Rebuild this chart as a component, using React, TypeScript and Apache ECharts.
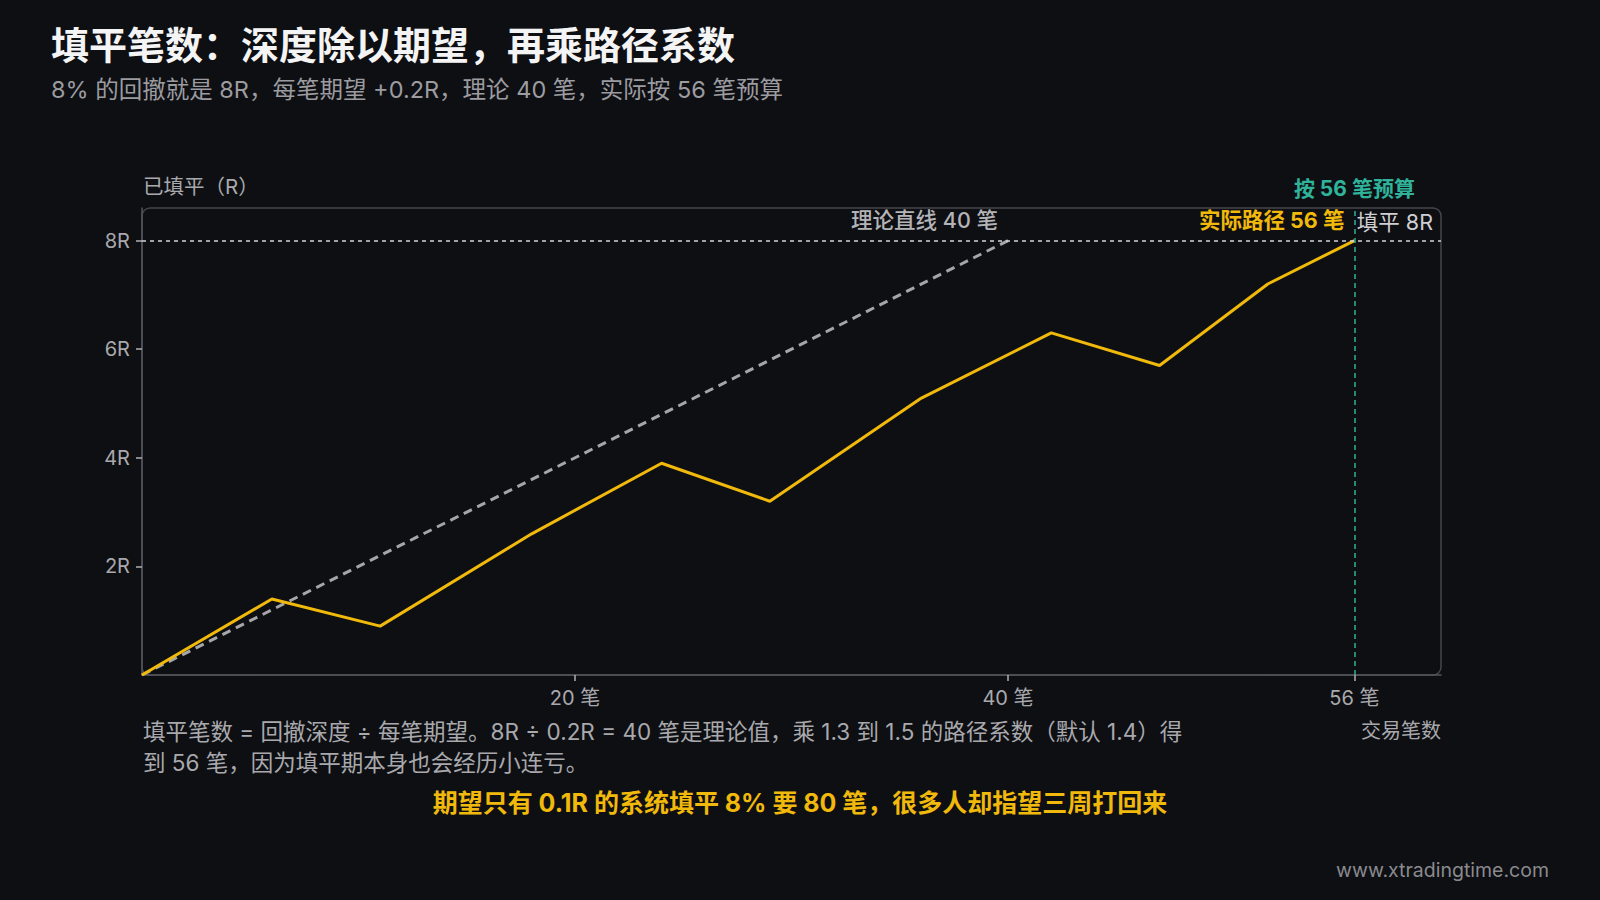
import React, { useEffect, useRef } from "react";
import * as echarts from "echarts";

// ---- data ----
const TRADES = [0, 6, 11, 18, 24, 29, 36, 42, 47, 52, 56];
const FILLED = [0, 1.4, 0.9, 2.6, 3.9, 3.2, 5.1, 6.3, 5.7, 7.2, 8];
const THEORY_TRADES = [0, 40];
const THEORY_FILLED = [0, 8];
const X_TICKS = [20, 40, 56];
const Y_TICKS = [2, 4, 6, 8];
const TARGET_R = 8;
const BUDGET_TRADES = 56;
const X_MAX = 60;
const Y_MAX = 8.6;

const TITLE = "填平笔数：深度除以期望，再乘路径系数";
const SUBTITLE = "8% 的回撤就是 8R，每笔期望 +0.2R，理论 40 笔，实际按 56 笔预算";
const Y_NAME = "已填平（R）";
const X_NAME = "交易笔数";
const NOTE_LINES = [
  "填平笔数 = 回撤深度 ÷ 每笔期望。8R ÷ 0.2R = 40 笔是理论值，乘 1.3 到 1.5 的路径系数（默认 1.4）得",
  "到 56 笔，因为填平期本身也会经历小连亏。",
];
const HIGHLIGHT = "期望只有 0.1R 的系统填平 8% 要 80 笔，很多人却指望三周打回来";
const WATERMARK = "www.xtradingtime.com";
const LABEL_ACTUAL = "实际路径 56 笔";
const LABEL_THEORY = "理论直线 40 笔";
const LABEL_TARGET = "填平 8R";
const LABEL_BUDGET = "按 56 笔预算";

const FONT = 'Inter, "Noto Sans CJK SC", "Noto Sans", sans-serif';
const BG = "#0e0f13";
const YELLOW = "#f0b90b";
const TEAL = "#2fb39b";
const AXIS_TEXT = "#a9a9ad";

const GRID = { left: 142, top: 208, width: 1299, height: 467 };

export default function App() {
  const ref = useRef<HTMLDivElement>(null);

  useEffect(() => {
    document.body.style.margin = "0";
    document.body.style.background = BG;
    const chart = echarts.init(ref.current!, null, { renderer: "svg" });

    const lastIdx = TRADES.length - 1;
    const actualData = TRADES.map((t, i) =>
      i === lastIdx
        ? {
            value: [t, FILLED[i]],
            label: {
              show: true,
              position: "left",
              distance: 10,
              offset: [0, -21],
              formatter: LABEL_ACTUAL,
              color: YELLOW,
              fontWeight: "bold",
              fontSize: 21.5,
              fontFamily: FONT,
            },
          }
        : { value: [t, FILLED[i]] }
    );
    const theoryLast = THEORY_TRADES.length - 1;
    const theoryData = THEORY_TRADES.map((t, i) =>
      i === theoryLast
        ? {
            value: [t, THEORY_FILLED[i]],
            label: {
              show: true,
              position: "left",
              distance: 10,
              offset: [0, -21],
              formatter: LABEL_THEORY,
              color: "#b4b4b8",
              fontWeight: 500,
              fontSize: 21.5,
              fontFamily: FONT,
            },
          }
        : { value: [t, THEORY_FILLED[i]] }
    );

    const x0 = GRID.left;
    const y0 = GRID.top;
    const x1 = GRID.left + GRID.width;
    const y1 = GRID.top + GRID.height;

    chart.setOption({
      animation: false,
      backgroundColor: BG,
      textStyle: { fontFamily: FONT },
      grid: { ...GRID, containLabel: false },
      xAxis: {
        type: "value",
        min: 0,
        max: X_MAX,
        splitLine: { show: false },
        axisLine: { show: true, lineStyle: { color: "#55565c", width: 1.5 } },
        axisTick: {
          show: true,
          customValues: X_TICKS,
          length: 6,
          lineStyle: { color: "#b0b0b4", width: 1.5 },
        },
        axisLabel: {
          customValues: X_TICKS,
          formatter: (v: number) => `${v} 笔`,
          color: AXIS_TEXT,
          fontSize: 20,
          margin: 13,
          fontFamily: FONT,
        },
      },
      yAxis: {
        type: "value",
        min: 0,
        max: Y_MAX,
        splitLine: { show: false },
        axisLine: { show: true, lineStyle: { color: "#55565c", width: 1.5 } },
        axisTick: {
          show: true,
          customValues: Y_TICKS,
          length: 6,
          lineStyle: { color: "#b0b0b4", width: 1.5 },
        },
        axisLabel: {
          customValues: Y_TICKS,
          formatter: (v: number) => `${v}R`,
          color: AXIS_TEXT,
          fontSize: 20,
          margin: 12,
          fontFamily: FONT,
        },
      },
      series: [
        {
          type: "line",
          name: "theory",
          data: theoryData,
          symbol: "circle",
          symbolSize: 0,
          showSymbol: true,
          lineStyle: { color: "#a6a6aa", width: 3, type: [9, 6] },
          itemStyle: { color: "#a6a6aa" },
          z: 3,
        },
        {
          type: "line",
          name: "actual",
          data: actualData,
          symbol: "circle",
          symbolSize: 0,
          showSymbol: true,
          lineStyle: { color: YELLOW, width: 3 },
          itemStyle: { color: YELLOW },
          z: 4,
          markLine: {
            silent: true,
            symbol: "none",
            animation: false,
            data: [
              {
                yAxis: TARGET_R,
                lineStyle: { type: [4, 4], color: "#d4d4d8", width: 1.5 },
                label: {
                  show: true,
                  position: "insideEndTop",
                  formatter: LABEL_TARGET,
                  color: "#cfcfd3",
                  fontSize: 21.5,
                  distance: 8,
                  fontFamily: FONT,
                },
              },
              {
                xAxis: BUDGET_TRADES,
                lineStyle: { type: [5, 4], color: TEAL, width: 1.5 },
                label: {
                  show: true,
                  position: "end",
                  formatter: LABEL_BUDGET,
                  color: TEAL,
                  fontWeight: "bold",
                  fontSize: 21,
                  distance: 9,
                  fontFamily: FONT,
                },
              },
            ],
          },
        },
      ],
      graphic: [
        {
          type: "rect",
          silent: true,
          z: -1,
          shape: { x: x0, y: y0, width: x1 - x0, height: y1 - y0, r: 8 },
          style: { fill: "none", stroke: "#45464c", lineWidth: 1.5 },
        },
        {
          type: "text",
          x: 51,
          y: 45,
          style: {
            text: TITLE,
            fill: "#f4f4f5",
            font: `bold 38px ${FONT}`,
            verticalAlign: "middle",
          },
        },
        {
          type: "text",
          x: 51,
          y: 89,
          style: {
            text: SUBTITLE,
            fill: "#9c9ca0",
            font: `23.5px ${FONT}`,
            verticalAlign: "middle",
          },
        },
        {
          type: "text",
          x: 143,
          y: 186,
          style: {
            text: Y_NAME,
            fill: AXIS_TEXT,
            font: `20.5px ${FONT}`,
            verticalAlign: "middle",
          },
        },
        {
          type: "text",
          x: x1,
          y: 731,
          style: {
            text: X_NAME,
            fill: AXIS_TEXT,
            font: `20px ${FONT}`,
            align: "right",
            verticalAlign: "middle",
          },
        },
        ...NOTE_LINES.map((t, i) => ({
          type: "text",
          x: 143,
          y: 731 + i * 31,
          style: {
            text: t,
            fill: AXIS_TEXT,
            font: `22.5px ${FONT}`,
            verticalAlign: "middle",
          },
        })),
        {
          type: "text",
          x: 800,
          y: 803,
          style: {
            text: HIGHLIGHT,
            fill: YELLOW,
            font: `bold 25px ${FONT}`,
            align: "center",
            verticalAlign: "middle",
          },
        },
        {
          type: "text",
          x: 1549,
          y: 870,
          style: {
            text: WATERMARK,
            fill: "#8a8a8e",
            font: `19.5px ${FONT}`,
            align: "right",
            verticalAlign: "middle",
          },
        },
      ],
    });

    return () => chart.dispose();
  }, []);

  return <div ref={ref} style={{ width: 1600, height: 900 }} />;
}
